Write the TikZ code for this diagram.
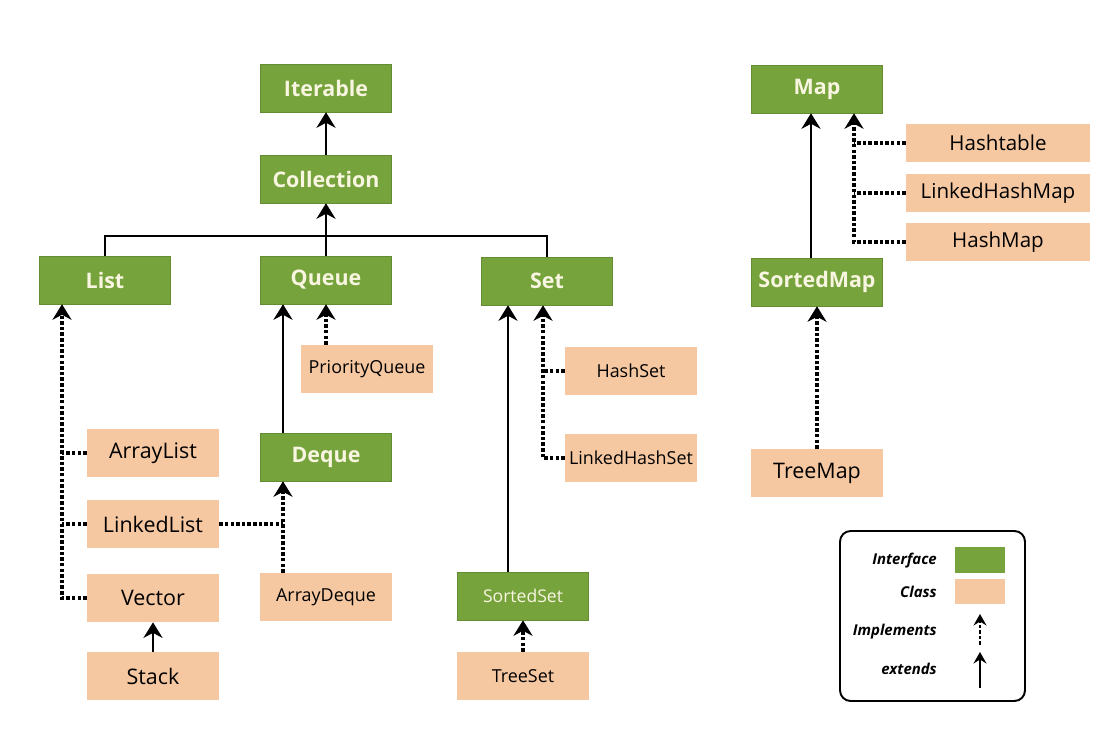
\documentclass[tikz,border=0pt]{standalone}
\usepackage{fontspec}
\setmainfont{Open Sans}
\usetikzlibrary{positioning, calc, arrows.meta, shapes}

\definecolor{ifgreen}{RGB}{119,163,60}
\definecolor{clpeach}{RGB}{246,200,162}
\definecolor{iftext}{RGB}{248,245,225}

\tikzset{
	iface/.style={fill=ifgreen, draw=ifgreen!85!black, line width=0.3pt, minimum width=2.62cm, minimum height=0.96cm, inner sep=0pt, text=iftext, font=\bfseries\fontsize{12.2}{14}\selectfont},
	cls/.style={fill=clpeach, minimum width=2.64cm, minimum height=0.96cm, inner sep=0pt, font=\fontsize{12.2}{14}\selectfont},
	mapcls/.style={cls, minimum width=3.68cm, minimum height=0.78cm, font=\fontsize{11.7}{14}\selectfont},
	smalltxt/.style={font=\fontsize{10.2}{12}\selectfont},
	solidline/.style={line width=1.6pt},
	dotline/.style={line width=1.8pt, dash pattern=on 2pt off 1.2pt},
	ext/.style={solidline, -{Stealth[length=3.1mm, width=3.8mm, inset=1mm]}},
	impl/.style={dotline, -{Stealth[length=3.1mm, width=3.8mm, inset=1mm]}},
	legtxt/.style={anchor=east, font=\bfseries\itshape\fontsize{8.5}{10}\selectfont},
}

\begin{document}
\begin{tikzpicture}[x=0.02cm, y=-0.02cm]
	\useasboundingbox (0,0) rectangle (1098,736);
	
	%// interfaces
	\node [iface] (itr) at (326, 88) {Iterable};
	\node [iface] (col) at (326, 179) {Collection};
	\node [iface] (lst) at (105, 280) {List};
	\node [iface] (qu) at (326, 280) {Queue};
	\node [iface] (set) at (547, 281) {Set};
	\node [iface] (dq) at (326, 457) {Deque};
	\node [iface, font=\fontsize{10}{12}\selectfont] (sst) at (523, 596) {SortedSet};
	\node [iface] (map) at (817, 89) {Map};
	\node [iface] (smap) at (817, 282) {SortedMap};
	
	%// classes
	\node [cls] (arl) at (153, 453) {ArrayList};
	\node [cls] (lkl) at (153, 524) {LinkedList};
	\node [cls] (vec) at (153, 598) {Vector};
	\node [cls] (stk) at (153, 676) {Stack};
	\node [cls, smalltxt] (pq) at (367, 369) {PriorityQueue};
	\node [cls, smalltxt] (adq) at (326, 597) {ArrayDeque};
	\node [cls, smalltxt] (hs) at (631, 371) {HashSet};
	\node [cls, smalltxt] (lhs) at (631, 458) {LinkedHashSet};
	\node [cls, smalltxt] (ts) at (523, 676) {TreeSet};
	\node [cls] (tm) at (817, 473) {TreeMap};
	\node [mapcls] (htb) at (998, 143) {Hashtable};
	\node [mapcls] (lhm) at (998, 193) {LinkedHashMap};
	\node [mapcls] (hm) at (998, 242) {HashMap};
	
	%// bends of the connectors
	\coordinate (bar) at (326, 236);
	\coordinate (lbus) at (62, 598);
	\coordinate (dbus) at (283, 524);
	\coordinate (sx) at (508, 0);
	\coordinate (hbus) at (543, 458);
	\coordinate (mx) at (811, 0);
	\coordinate (mbus) at (854, 242);
	
	%// Collection tree
	\draw [ext] (col.north) -- (itr.south);
	\draw [solidline] (lst.north) |- (bar) -| (set.north);
	\draw [solidline] (qu.north) -- (bar);
	\draw [ext] (bar) -- (col.south);
	
	%// List side
	\draw [impl] (vec.west) -- (lbus) -- (lbus |- lst.south);
	\foreach \c in {arl, lkl}
	\draw [dotline] (\c.west) -- (\c.west -| lbus);
	\draw [ext] (stk.north) -- (vec.south);
	
	%// Queue side
	\draw [ext] (dq.north -| dbus) -- (dbus |- qu.south);
	\draw [impl] (pq.north -| qu.south) -- (qu.south);
	\draw [impl] (adq.north -| dbus) -- (dbus |- dq.south);
	\draw [dotline] (lkl.east) -- (dbus);
	
	%// Set side
	\draw [ext] (sst.north -| sx) -- (set.south -| sx);
	\draw [impl] (lhs.west) -- (hbus) -- (hbus |- set.south);
	\draw [dotline] (hs.west) -- (hs.west -| hbus);
	\draw [impl] (ts.north) -- (sst.south);
	
	%// Map side
	\draw [ext] (smap.north -| mx) -- (map.south -| mx);
	\draw [impl] (hm.west) -- (mbus) -- (mbus |- map.south);
	\foreach \c in {htb, lhm}
	\draw [dotline] (\c.west) -- (\c.west -| mbus);
	\draw [impl] (tm.north) -- (smap.south);
	
	%// legend
	\node [draw, line width=1.1pt, rounded corners=6pt, minimum width=3.7cm, minimum height=3.4cm] (leg) at (932.5, 616) {};
	\node [legtxt] (lif) at (943, 561) {Interface};
	\node [legtxt] (lcl) at (943, 592) {Class};
	\node [legtxt] (lim) at (943, 632) {Implements};
	\node [legtxt] (lex) at (943, 669) {extends};
	\node [fill=ifgreen, minimum width=1cm, minimum height=0.52cm, inner sep=0pt] (kif) at (980, 560) {};
	\node [fill=clpeach, minimum width=1cm, minimum height=0.5cm, inner sep=0pt] (kcl) at (980, 591.5) {};
	\coordinate (kim) at (980, 645);
	\coordinate (kex) at (980, 688);
	\draw [dotline, line width=1.2pt, -{Stealth[length=2.3mm, width=2.6mm, inset=0.8mm]}] (kim) -- ++(0,-31);
	\draw [solidline, line width=1.2pt, -{Stealth[length=2.3mm, width=2.6mm, inset=0.8mm]}] (kex) -- ++(0,-36);
\end{tikzpicture}
\end{document}
